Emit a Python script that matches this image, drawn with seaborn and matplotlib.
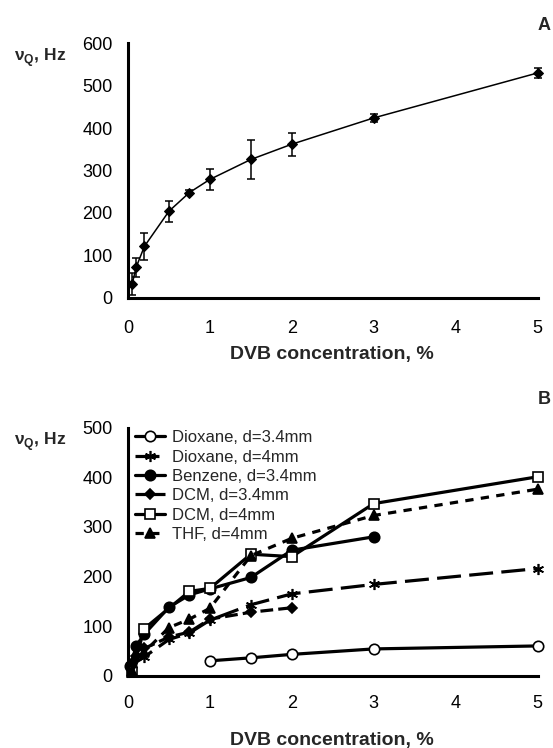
import matplotlib
matplotlib.use("Agg")
import matplotlib.pyplot as plt
import seaborn as sns
import numpy as np
import pandas as pd

# ---------------- data ----------------
# Panel A
dvb_a = [0.05, 0.1, 0.2, 0.5, 0.75, 1, 1.5, 2, 3, 5]
nuq_a = [32, 72, 121, 204, 248, 279, 326, 362, 424, 530]
err_a = [26, 22, 32, 25, 5, 25, 47, 27, 9, 11]

# Panel B
diox34_x = [1, 1.5, 2, 3, 5]
diox34_y = [30, 36, 43, 54, 60]

diox4_x = [0.05, 0.2, 0.5, 0.75, 1, 1.5, 2, 3, 5]
diox4_y = [22, 38, 73, 86, 112, 143, 165, 184, 216]

benz34_x = [0.03, 0.1, 0.2, 0.5, 0.75, 1, 1.5, 2, 3]
benz34_y = [19, 60, 84, 138, 163, 175, 198, 253, 280]

dcm34_x = [0.05, 0.1, 0.2, 0.5, 0.75, 1, 1.5, 2]
dcm34_y = [25, 40, 55, 78, 88, 114, 128, 137]

dcm4_x = [0.05, 0.2, 0.75, 1, 1.5, 2, 3, 5]
dcm4_y = [8, 95, 170, 176, 245, 240, 347, 401]

thf4_x = [0.05, 0.2, 0.5, 0.75, 1, 1.5, 2, 3, 5]
thf4_y = [10, 48, 97, 114, 136, 242, 277, 323, 376]

labels_b = ["Dioxane, d=3.4mm", "Dioxane, d=4mm", "Benzene, d=3.4mm",
            "DCM, d=3.4mm", "DCM, d=4mm", "THF, d=4mm"]

xticks = [0, 1, 2, 3, 4, 5]
yticks_a = [0, 100, 200, 300, 400, 500, 600]
yticks_b = [0, 100, 200, 300, 400, 500]

# ---------------- style ----------------
sns.set_style("white")
plt.rcParams["font.family"] = ["Liberation Sans", "DejaVu Sans"]
plt.rcParams["mathtext.fontset"] = "custom"
plt.rcParams["mathtext.bf"] = "Liberation Sans:bold"
plt.rcParams["mathtext.rm"] = "Liberation Sans"

W, H = 553, 748
x0, x5 = 128, 537.5
fig = plt.figure(figsize=(W/100, H/100), dpi=100)
axA = fig.add_axes([x0/W, (H-297.7)/H, (x5-x0)/W, (297.7-43.3)/H])
axB = fig.add_axes([x0/W, (H-675.7)/H, (x5-x0)/W, (675.7-427.7)/H])

def style_axes(ax, yticks, xpad):
    ax.set_xlim(0, 5)
    ax.set_ylim(yticks[0], yticks[-1])
    ax.set_xticks(xticks)
    ax.set_yticks(yticks)
    for s in ["top", "right"]:
        ax.spines[s].set_visible(False)
    for s in ["left", "bottom"]:
        ax.spines[s].set_linewidth(2.2)
        ax.spines[s].set_color("black")
    ax.tick_params(axis="both", direction="out", length=4, width=2.2,
                   color="black", labelsize=13, labelcolor="black")
    ax.tick_params(axis="x", pad=xpad)
    ax.tick_params(axis="y", pad=7)
    ax.set_xlabel("")
    ax.set_ylabel("")

# ---------------- panel A ----------------
dfa = pd.DataFrame({"dvb": dvb_a, "nuq": nuq_a})
sns.lineplot(data=dfa, x="dvb", y="nuq", ax=axA, color="black", linewidth=1.1,
             marker="D", markersize=5, markeredgecolor="black",
             markerfacecolor="black", errorbar=None, clip_on=False)
axA.errorbar(dvb_a, nuq_a, yerr=err_a, fmt="none", ecolor="black",
             elinewidth=1.1, capsize=2.6, capthick=1.1, clip_on=False)
style_axes(axA, yticks_a, 12)

# ---------------- panel B ----------------
series = [
    (diox34_x, diox34_y, labels_b[0], "o", "white", "-", 7.5),
    (diox4_x, diox4_y, labels_b[1], (6, 2, 0), "black", (0, (7.5, 2.6)), 8),
    (benz34_x, benz34_y, labels_b[2], "o", "black", "-", 7.5),
    (dcm34_x, dcm34_y, labels_b[3], "D", "black", (0, (4, 1.6)), 5.5),
    (dcm4_x, dcm4_y, labels_b[4], "s", "white", "-", 7),
    (thf4_x, thf4_y, labels_b[5], "^", "black", (0, (2.6, 2.3)), 6.5),
]
for xs, ys, lab, mk, mfc, ls, ms in series:
    d = pd.DataFrame({"x": xs, "y": ys})
    sns.lineplot(data=d, x="x", y="y", ax=axB, color="black", linewidth=2.3,
                 linestyle=ls, marker=mk, markersize=ms,
                 markerfacecolor=mfc, markeredgecolor="black",
                 markeredgewidth=1.2, errorbar=None, label=lab, clip_on=False)
style_axes(axB, yticks_b, 10)
leg = axB.legend(loc="upper left", bbox_to_anchor=(0.017, 0.99), frameon=False,
                 fontsize=12, handlelength=1.8, handletextpad=0.45,
                 labelspacing=0.26, borderaxespad=0.0, borderpad=0.0)

# ---------------- texts ----------------
fig.text(331.5/W, 1 - 354/H, "DVB concentration, %", ha="center", va="center",
         fontsize=14, fontweight="bold")
fig.text(331.5/W, 1 - 740/H, "DVB concentration, %", ha="center", va="center",
         fontsize=14, fontweight="bold")
fig.text(14/W, 1 - 58/H, r"ν$_{\mathbf{Q}}$, Hz", ha="left", va="center",
         fontsize=12.5, fontweight="bold")
fig.text(14/W, 1 - 442/H, r"ν$_{\mathbf{Q}}$, Hz", ha="left", va="center",
         fontsize=12.5, fontweight="bold")
fig.text(538/W, 1 - 26/H, "A", ha="left", va="center", fontsize=13, fontweight="bold")
fig.text(538/W, 1 - 400/H, "B", ha="left", va="center", fontsize=13, fontweight="bold")

fig.savefig("out.png", dpi=100)
